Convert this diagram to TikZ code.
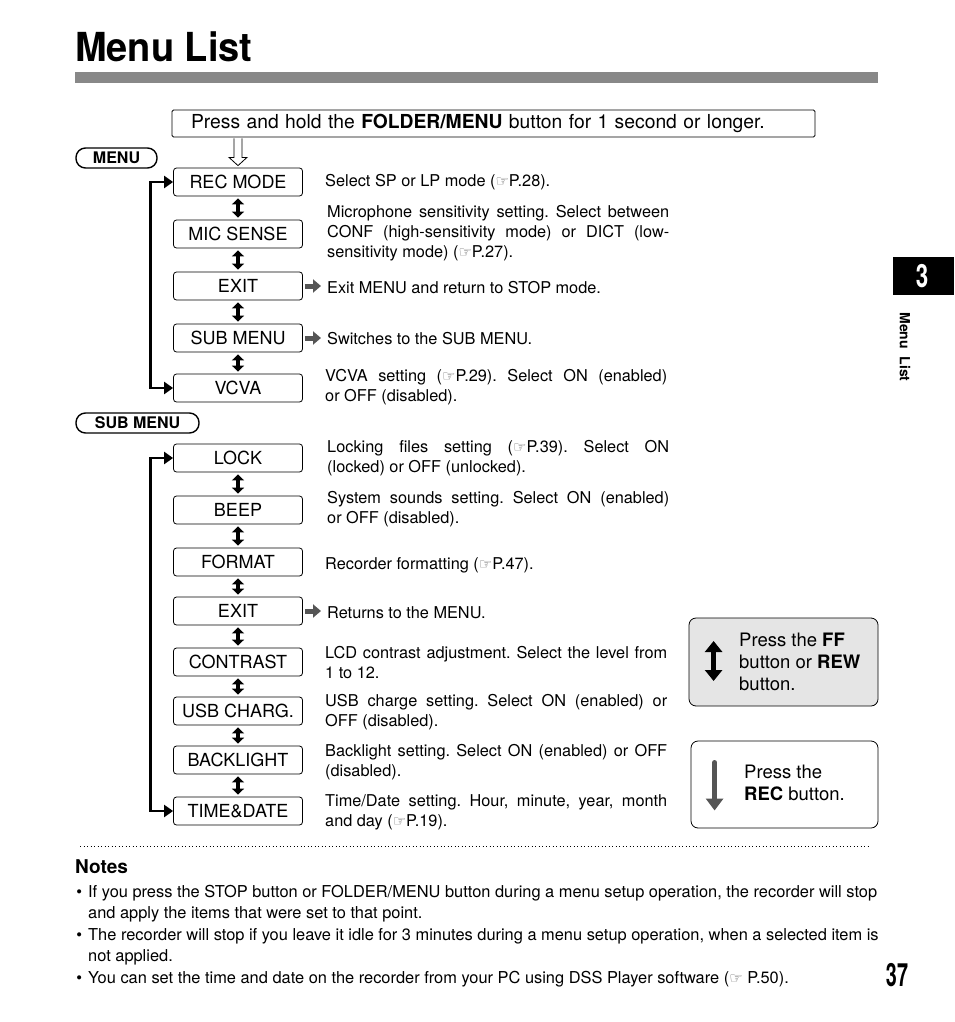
\documentclass[tikz,border=0pt]{standalone}
\usepackage{fontspec}
\setmainfont{TeX Gyre Heros}
\newfontfamily\symfont{DejaVu Sans}
\usetikzlibrary{arrows.meta,positioning,calc}
\definecolor{barGray}{RGB}{136,136,136}
\definecolor{tipGray}{RGB}{85,85,85}
\definecolor{keyFill}{RGB}{229,229,229}
\newcommand{\pref}[1]{{\symfont\color{black!60}\fontsize{15}{15}\selectfont ☞}#1}
\frenchspacing

\begin{document}
\begin{tikzpicture}[x=1pt,y=-1pt,
  item/.style={draw,rounded corners=3pt,line width=0.8pt,minimum width=129,
    minimum height=28,inner sep=0,font=\fontsize{18}{18}\selectfont},
  pill/.style={draw,line width=1.4pt,rounded corners=9.5pt,minimum height=20,
    inner sep=0,font=\fontsize{16}{16}\selectfont\bfseries},
  desc/.style={anchor=west,inner sep=0,text width=342,align=justify,yshift=-1.5pt,
    font=\fontsize{16.3}{20}\selectfont},
  updown/.style={{Triangle[length=6pt,width=12pt]}-{Triangle[length=6pt,width=12pt]},
    line width=3.2pt,shorten <=2pt,shorten >=2pt},
  back/.style={{Triangle[length=9pt,width=12pt]}-{Triangle[length=9pt,width=12pt]},
    line width=2.8pt},
  goto/.style={-{Triangle[length=8pt,width=13pt]},line width=5pt,tipGray,
    shorten <=2pt,shorten >=6pt},
  keybox/.style={draw,rounded corners=7pt,line width=0.8pt,inner sep=0},
  keytext/.style={anchor=west,inner sep=0,align=left,font=\fontsize{18.5}{22}\selectfont},
  note/.style={anchor=west,inner sep=0,align=left,font=\fontsize{16.4}{21}\selectfont}
]
  \useasboundingbox (0,0) rectangle (954,1022);

  % title and side tab
  \node[anchor=base west,inner sep=0,xscale=0.95,font=\fontsize{40}{40}\selectfont\bfseries]
    (title) at (75,62) {Menu List};
  \fill[barGray] (75,72) rectangle (878,83);
  \fill[black] (893,257) rectangle (954,295);
  \node[white,xscale=0.7,font=\fontsize{32}{32}\selectfont\bfseries] (chap) at (922,276) {3};
  \node[rotate=-90,font=\fontsize{14}{14}\selectfont\bfseries] (tab) at (905,347) {Menu\ \ List};

  % start
  \node[draw,line width=0.8pt,rounded corners=1.5pt,minimum width=643,minimum height=27,
    inner xsep=19,inner ysep=0,text width=605,align=left,font=\fontsize{19.3}{19.3}\selectfont]
    (hold) at (493.5,123.5) {Press and hold the \textbf{FOLDER/MENU} button for 1 second or longer.};
  \node[pill,minimum width=81] (menu) at (116.5,158) {MENU};

  % menu
  \node[item] (rec) at (238,182) {REC MODE};
  \node[item] (mic) at (238,234) {MIC SENSE};
  \node[item] (exit) at (238,286) {EXIT};
  \node[item] (sub) at (238,338) {SUB MENU};
  \node[item] (vcva) at (238,388) {VCVA};

  \coordinate (tipTop) at (rec.north |- hold.south);
  \draw[line width=0.8pt,fill=white] ($(tipTop)+(-4,1)$) -- ++(0,19) -- ++(-5,0)
    -- ($(rec.north)+(0,-2)$) -- ($(tipTop)+(9,20)$) -- ++(-5,0) -- ++(0,-19);

  \draw[updown] (rec) -- (mic);
  \draw[updown] (mic) -- (exit);
  \draw[updown] (exit) -- (sub);
  \draw[updown] (sub) -- (vcva);
  \draw[back] (rec.west) -- ++(-23,0) |- (vcva.west);

  \node[desc] (recd) at (325,181) {Select SP or LP mode (\pref{P.28}).};
  \node[desc] (micd) at (327,232) {Microphone sensitivity setting. Select between\linebreak
    CONF (high-sensitivity mode) or DICT (low-\linebreak{}sensitivity mode) (\pref{P.27}).};
  \node[desc] (exitd) at (327,286) {Exit MENU and return to STOP mode.};
  \node[desc] (subd) at (327,337) {Switches to the SUB MENU.};
  \node[desc] (vcvad) at (325,385.5) {VCVA setting (\pref{P.29}). Select ON (enabled)\linebreak
    or OFF (disabled).};
  \draw[goto] (exit.east) -- (exitd.west |- exit.east);
  \draw[goto] (sub.east) -- (subd.west |- sub.east);

  % sub menu
  \node[pill,minimum width=123] (submenu) at (137.5,423) {SUB MENU};
  \node[item] (lock) at (238,458) {LOCK};
  \node[item] (beep) at (238,510) {BEEP};
  \node[item] (format) at (238,562) {FORMAT};
  \node[item] (back) at (238,611) {EXIT};
  \node[item] (contrast) at (238,662) {CONTRAST};
  \node[item] (usb) at (238,711) {USB CHARG.};
  \node[item] (light) at (238,760) {BACKLIGHT};
  \node[item] (time) at (238,811) {TIME\&DATE};

  \draw[updown] (lock) -- (beep);
  \draw[updown] (beep) -- (format);
  \draw[updown] (format) -- (back);
  \draw[updown] (back) -- (contrast);
  \draw[updown] (contrast) -- (usb);
  \draw[updown] (usb) -- (light);
  \draw[updown] (light) -- (time);
  \draw[back] (lock.west) -- ++(-23,0) |- (time.west);

  \node[desc] (lockd) at (327,457) {Locking files setting (\pref{P.39}). Select ON\linebreak
    (locked) or OFF (unlocked).};
  \node[desc] (beepd) at (327,507.5) {System sounds setting. Select ON (enabled)\linebreak
    or OFF (disabled).};
  \node[desc] (formatd) at (325,564) {Recorder formatting (\pref{P.47}).};
  \node[desc] (backd) at (327,611) {Returns to the MENU.};
  \node[desc] (contrastd) at (325,661.5) {LCD contrast adjustment. Select the level from\linebreak
    1 to 12.};
  \node[desc] (usbd) at (325,710.5) {USB charge setting. Select ON (enabled) or\linebreak
    OFF (disabled).};
  \node[desc] (lightd) at (325,760.5) {Backlight setting. Select ON (enabled) or OFF\linebreak
    (disabled).};
  \node[desc] (timed) at (325,811) {Time/Date setting. Hour, minute, year, month\linebreak
    and day (\pref{P.19}).};
  \draw[goto] (back.east) -- (backd.west |- back.east);

  % keys
  \node[keybox,fill=keyFill,minimum width=189,minimum height=88] (ffkey) at (783.5,662) {};
  \node[keytext] (fftext) at (739,662) {Press the \textbf{FF}\\button or \textbf{REW}\\button.};
  \draw[line width=4.5pt,{Triangle[length=11pt,width=17pt]}-{Triangle[length=11pt,width=17pt]}]
    ($(ffkey.west)+(25,-21)$) -- ($(ffkey.west)+(25,19)$);
  \node[keybox,fill=white,minimum width=187,minimum height=87] (reckey) at (784.5,784.5) {};
  \node[keytext] (rectext) at (744,782.5) {Press the\\\textbf{REC} button.};
  \draw[line width=5pt,line cap=round,tipGray,-{Triangle[length=12pt,width=17pt]}]
    ($(reckey.west)+(24,-22)$) -- ($(reckey.west)+(24,26)$);

  % notes
  \draw[line width=0.9pt,dash pattern=on 0.9pt off 2.6pt] (80,846) -- (870,846);
  \node[anchor=west,inner sep=0,font=\fontsize{19}{19}\selectfont\bfseries] (notes) at (75,867) {Notes};
  \node[note] (note1) at (88,903.5) {\llap{\textbullet\hspace{6pt}}If you press the STOP button or
    FOLDER/MENU button during a menu setup operation, the recorder will stop\\and apply the items
    that were set to that point.};
  \node[note] (note2) at (88,947) {\llap{\textbullet\hspace{6pt}}The recorder will stop if you leave
    it idle for 3 minutes during a menu setup operation, when a selected item is\\not applied.};
  \node[note] (note3) at (88,979) {\llap{\textbullet\hspace{6pt}}You can set the time and date on the
    recorder from your PC using DSS Player software (\pref{ P.50}).};
  \node[xscale=0.62,font=\fontsize{32}{32}\selectfont\bfseries] (page) at (897,975) {37};
\end{tikzpicture}
\end{document}
